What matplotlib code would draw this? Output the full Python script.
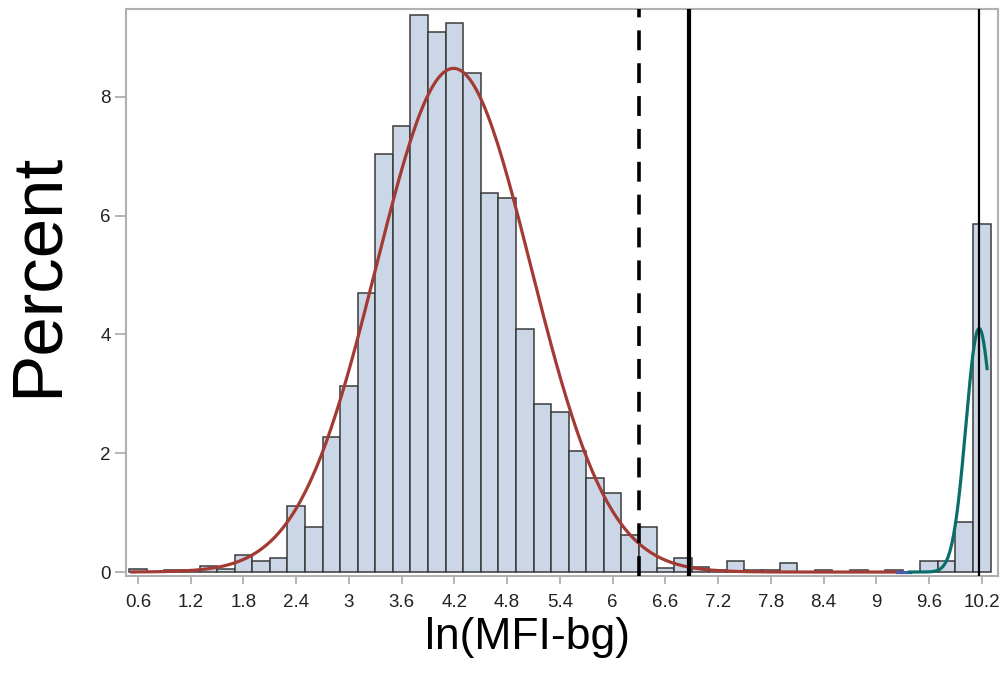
import matplotlib
matplotlib.use('Agg')
import matplotlib.pyplot as plt
import numpy as np

# histogram bins (centers, width 0.2) and percent per bin
bin_centers = [0.6, 0.8, 1.0, 1.2, 1.4, 1.6, 1.8, 2.0, 2.2, 2.4,
               2.6, 2.8, 3.0, 3.2, 3.4, 3.6, 3.8, 4.0, 4.2, 4.4,
               4.6, 4.8, 5.0, 5.2, 5.4, 5.6, 5.8, 6.0, 6.2, 6.4,
               6.6, 6.8, 7.0, 7.2, 7.4, 7.6, 7.8, 8.0, 8.2, 8.4,
               8.6, 8.8, 9.0, 9.2, 9.4, 9.6, 9.8, 10.0, 10.2]
percent = [0.05, 0.0, 0.03, 0.03, 0.10, 0.05, 0.29, 0.19, 0.24, 1.11,
           0.76, 2.27, 3.13, 4.70, 7.04, 7.51, 9.38, 9.09, 9.24, 8.40,
           6.38, 6.30, 4.09, 2.83, 2.69, 2.04, 1.58, 1.33, 0.62, 0.76,
           0.06, 0.24, 0.08, 0.03, 0.18, 0.03, 0.03, 0.15, 0.0, 0.03,
           0.0, 0.03, 0.0, 0.03, 0.0, 0.18, 0.18, 0.84, 5.86]
bin_width = 0.2

# fitted normal components: (mean, sd, peak height, x from, x to, colour)
fits = [
    (4.19, 0.88, 8.48, 0.53, 9.23, '#A33A33'),
    (9.30, 0.15, 0.0, 9.23, 9.38, '#4A5DB0'),
    (10.17, 0.15, 4.10, 9.38, 10.26, '#0B6E69'),
]

# reference lines
cut_dashed = 6.30
cut_solid = 6.87
cut_thin = 10.17

xticks = [0.6, 1.2, 1.8, 2.4, 3.0, 3.6, 4.2, 4.8, 5.4, 6.0, 6.6, 7.2,
          7.8, 8.4, 9.0, 9.6, 10.2]
xticklabels = ['0.6', '1.2', '1.8', '2.4', '3', '3.6', '4.2', '4.8', '5.4',
               '6', '6.6', '7.2', '7.8', '8.4', '9', '9.6', '10.2']
yticks = [0, 2, 4, 6, 8]


def main():
    fig = plt.figure(figsize=(10.04, 6.92), dpi=100)
    ax = fig.add_axes([0.1255, 0.1676, 0.8685, 0.8201])

    ax.bar(bin_centers, percent, width=bin_width, color='#CBD6E6',
           edgecolor='#3a3a3a', linewidth=1.1, zorder=2)

    for mu, sd, peak, x0, x1, col in fits:
        xs = np.linspace(x0, x1, 300)
        ys = peak * np.exp(-(xs - mu) ** 2 / (2 * sd ** 2))
        ax.plot(xs, ys, color=col, linewidth=2.3, zorder=3)

    ax.axvline(cut_dashed, color='black', linewidth=2.6,
               dashes=(5.5, 3.6), zorder=4)
    ax.axvline(cut_solid, color='black', linewidth=3.0, zorder=4)
    ax.axvline(cut_thin, color='black', linewidth=1.6, zorder=4)

    ax.set_xlim(0.4635, 10.384)
    ax.set_ylim(-0.067, 9.487)

    ax.set_xticks(xticks)
    ax.set_xticklabels(xticklabels)
    ax.set_yticks(yticks)
    for lab in ax.get_xticklabels() + ax.get_yticklabels():
        lab.set_family(['Liberation Sans Narrow', 'Liberation Sans', 'DejaVu Sans'])
        lab.set_fontsize(13.5)
        lab.set_color('#222222')
    ax.tick_params(axis='x', length=6, width=1.2, color='#A8A8A8', pad=7)
    ax.tick_params(axis='y', length=8, width=1.2, color='#A8A8A8', pad=3)

    for sp in ax.spines.values():
        sp.set_color('#B0B0B0')
        sp.set_linewidth(1.5)

    fig.text(0.038, 0.603, 'Percent', rotation=90, ha='center', va='center',
             fontsize=51, family=['Liberation Sans', 'DejaVu Sans'])
    fig.text(0.525, 0.079, 'ln(MFI-bg)', ha='center', va='center',
             fontsize=32, family=['Liberation Sans', 'DejaVu Sans'])

    fig.savefig('out.png', dpi=100)
    pass


if __name__ == '__main__':
    main()
